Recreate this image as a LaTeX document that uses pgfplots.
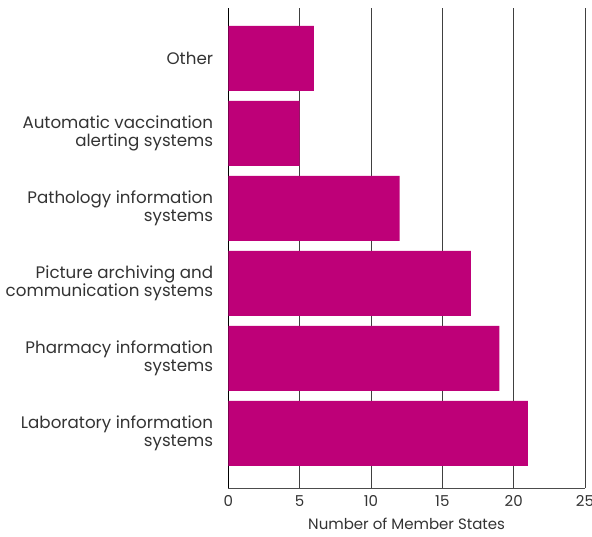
\documentclass[border=0pt]{standalone}
\usepackage{fontspec}
\setmainfont{Poppins}
\usepackage{pgfplots}
\pgfplotsset{compat=1.18}
\definecolor{barc}{HTML}{BE0078}
\definecolor{txt}{HTML}{333333}
\begin{document}
\begin{tikzpicture}
\useasboundingbox (-228.3pt,-49pt) rectangle (363.7pt,488pt);
\begin{axis}[
  at={(0pt,0pt)}, anchor=south west,
  scale only axis, width=356.7pt, height=480pt,
  xbar, bar width=65pt,
  xmin=0, xmax=25, ymin=-0.727, ymax=5.673,
  axis lines=left, axis line style={-},
  x axis line style={black!70, line width=0.9pt},
  y axis line style={black, line width=0.9pt},
  xtick={0,5,10,15,20,25},
  ytick={0,1,2,3,4,5},
  yticklabels={{Laboratory information\\systems},{Pharmacy information\\systems},{Picture archiving and\\communication systems},{Pathology information\\systems},{Automatic vaccination\\alerting systems},{Other}},
  xmajorgrids, grid style={black!75, line width=0.9pt},
  major tick length=0pt,
  /pgf/number format/assume math mode=true,
  ticklabel style={font=\fontsize{15}{17}\selectfont, text=txt},
  yticklabel style={font=\fontsize{16.7}{17.5}\selectfont, align=right, inner sep=0pt, xshift=-15pt},
  xticklabel style={inner sep=0pt, yshift=-7pt},
  xlabel={Number of Member States},
  xlabel style={font=\fontsize{15}{17}\selectfont, text=txt, at={(axis description cs:0.5,0)}, anchor=north, yshift=-30pt, inner sep=0pt},
  clip=false,
]
\addplot[fill=barc, draw=none] coordinates {(21,0) (19,1) (17,2) (12,3) (5,4) (6,5)};
\end{axis}
\end{tikzpicture}
\end{document}
